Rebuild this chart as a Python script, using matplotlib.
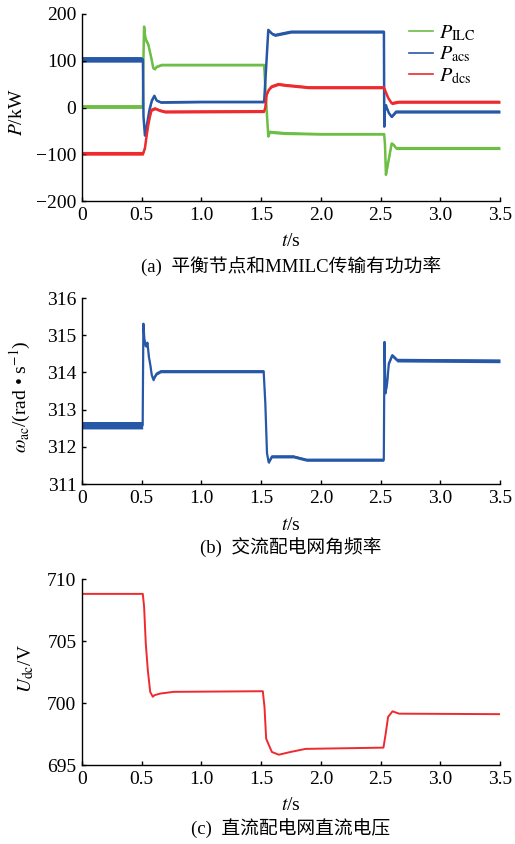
import numpy as np
import matplotlib
matplotlib.use("Agg")
import matplotlib.pyplot as plt

plt.rcParams['font.family'] = ['Liberation Serif', 'Noto Sans CJK SC', 'DejaVu Sans']
plt.rcParams['mathtext.fontset'] = 'stix'
plt.rcParams['axes.unicode_minus'] = True

# ---------------- data ----------------
x_ticks = [0, 0.5, 1.0, 1.5, 2.0, 2.5, 3.0, 3.5]
x_ticklabels = ['0', '0.5', '1.0', '1.5', '2.0', '2.5', '3.0', '3.5']

# (a) power, kW
t_ilc = [0, 0.510, 0.514, 0.520, 0.530, 0.541, 0.555, 0.569, 0.585, 0.597, 0.610, 0.625, 0.667, 0.8,
         1.525, 1.540, 1.560, 1.574, 1.60, 1.70, 2.0, 2.530, 2.537, 2.545, 2.555, 2.565, 2.580, 2.593,
         2.61, 2.63, 3.5]
p_ilc = [2, 2, 100, 173, 150, 141, 135, 119, 100, 84, 82, 87, 91, 91,
         91, 20, -62, -52, -53, -55, -57, -57, -80, -144, -130, -116, -95, -77,
         -80, -87, -87]
s_ilc = [4, 4, 2, 3, 4, 5, 5, 4, 3, 2, 2, 2, 2, 2,
         2, 1, 2, 3, 3, 3, 2, 2, 2, 2, 3, 3, 3, 3,
         3, 3, 3]

t_acs = [0, 0.510, 0.515, 0.527, 0.545, 0.565, 0.585, 0.606, 0.625, 0.66, 1.0, 1.525, 1.545, 1.560,
         1.590, 1.616, 1.75, 2.0, 2.528, 2.531, 2.534, 2.545, 2.551, 2.570, 2.593, 2.63, 3.5]
p_acs = [103, 103, -20, -60, -35, -5, 15, 25, 15, 11, 12, 12, 100, 166,
         158, 155, 162, 162, 162, -41, -10, 5, 0, -12, -20, -9, -9]
s_acs = [6, 6, 1, 2, 3, 3, 3, 2, 2, 2, 2, 2, 1, 2,
         3, 3, 3, 3, 3, 1, 1, 2, 2, 2, 2, 3, 3]

t_dcs = [0, 0.512, 0.527, 0.540, 0.555, 0.570, 0.583, 0.611, 0.65, 0.695, 1.525, 1.535, 1.546, 1.565,
         1.588, 1.644, 1.70, 1.90, 2.528, 2.545, 2.565, 2.593, 2.65, 3.5]
p_dcs = [-98, -98, -87, -62, -37, -18, -5, -2, -6, -9, -8, 0, 27, 38,
         45, 50, 48, 43, 43, 32, 20, 9, 12, 12]
s_dcs = [4, 4, 2, 2, 2, 2, 3, 3, 3, 3, 3, 2, 2, 2,
         3, 3, 3, 3, 3, 2, 2, 3, 3, 3]

# (b) angular frequency, rad/s
t_w = [0, 0.508, 0.514, 0.522, 0.534, 0.548, 0.56, 0.572, 0.584, 0.598, 0.612, 0.626, 0.66, 1.0,
       1.521, 1.535, 1.549, 1.563, 1.59, 1.77, 1.88, 2.527, 2.533, 2.541, 2.555, 2.569, 2.597, 2.639, 3.5]
w_ac = [312.58, 312.58, 315.31, 314.9, 314.7, 314.8, 314.42, 314.2, 313.93, 313.8, 313.9, 313.97, 314.03, 314.03,
        314.03, 313.17, 311.83, 311.58, 311.74, 311.74, 311.65, 311.65, 314.82, 313.44, 313.7, 314.24, 314.46, 314.33, 314.31]
s_w = [0.10, 0.10, 0.02, 0.04, 0.04, 0.04, 0.04, 0.04, 0.04, 0.04, 0.04, 0.04, 0.04, 0.04,
       0.04, 0.01, 0.01, 0.04, 0.04, 0.04, 0.04, 0.04, 0.01, 0.04, 0.04, 0.05, 0.05, 0.05, 0.05]

# (c) DC voltage, V
t_u = [0, 0.509, 0.520, 0.534, 0.551, 0.571, 0.593, 0.607, 0.655, 0.767, 1.514, 1.528, 1.542, 1.565,
       1.59, 1.648, 1.746, 1.872, 2.524, 2.543, 2.563, 2.60, 2.655, 3.5]
u_dc = [708.8, 708.8, 707.76, 704.8, 702.65, 700.9, 700.5, 700.63, 700.76, 700.9, 700.95, 699.68, 697.13, 696.6,
        696.05, 695.83, 696.05, 696.3, 696.4, 697.53, 698.88, 699.33, 699.14, 699.1]

c_green = '#6CBE45'
c_blue = '#2758A8'
c_red = '#EE2A2E'

W, H = 515, 844
fig = plt.figure(figsize=(W / 100, H / 100), dpi=100)


def ax_at(left, top, right, bottom):
    return fig.add_axes([left / W, 1 - bottom / H, (right - left) / W, (bottom - top) / H])


def style(ax, ylim, yticks):
    ax.set_xlim(0, 3.5)
    ax.set_ylim(*ylim)
    ax.set_xticks(x_ticks)
    ax.set_xticklabels(x_ticklabels)
    ax.set_yticks(yticks)
    for sp in ['top', 'right']:
        ax.spines[sp].set_visible(False)
    for sp in ['left', 'bottom']:
        ax.spines[sp].set_linewidth(1.0)
    ax.tick_params(direction='in', length=3, width=1.0, labelsize=14, pad=4)


def band(ax, t, v, s, color, lw):
    t = np.asarray(t); v = np.asarray(v); s = np.asarray(s)
    ax.fill_between(t, v - s, v + s, color=color, linewidth=0)
    line, = ax.plot(t, v, color=color, lw=lw)
    return line

# ---- (a)
ax1 = ax_at(82, 14, 500, 201)
style(ax1, (-200, 200), [-200, -100, 0, 100, 200])
band(ax1, t_ilc, p_ilc, s_ilc, c_green, 1.8)
band(ax1, t_acs, p_acs, s_acs, c_blue, 1.8)
band(ax1, t_dcs, p_dcs, s_dcs, c_red, 1.8)
# legend handles as thin lines
h1, = ax1.plot([], [], color=c_green, lw=1.2)
h2, = ax1.plot([], [], color=c_blue, lw=1.2)
h3, = ax1.plot([], [], color=c_red, lw=1.2)
ax1.legend([h1, h2, h3], [r'$P_{\mathrm{ILC}}$', r'$P_{\mathrm{acs}}$', r'$P_{\mathrm{dcs}}$'],
           loc='upper right', bbox_to_anchor=((476 - 82) / 418, 0.95), frameon=False, fontsize=14.5,
           handlelength=1.2, handletextpad=0.3, labelspacing=0.1, borderaxespad=0.0, borderpad=0.0)

# ---- (b)
ax2 = ax_at(82, 298, 500, 484)
style(ax2, (311, 316), [311, 312, 313, 314, 315, 316])
band(ax2, t_w, w_ac, s_w, c_blue, 1.6)

# ---- (c)
ax3 = ax_at(82, 579, 500, 765)
style(ax3, (695, 710), [695, 700, 705, 710])
ax3.plot(t_u, u_dc, color=c_red, lw=1.4)

# labels
def ftext(x, y, s, **kw):
    fig.text(x / W, 1 - y / H, s, ha='center', va='center', **kw)

ftext(17, 112, r'$P$/kW', rotation=90, fontsize=14)
ftext(20, 397, r'$\omega_{\mathrm{ac}}$/(rad • s$^{-1}$)', rotation=90, fontsize=14)
ftext(26, 668, r'$U_{\mathrm{dc}}$/V', rotation=90, fontsize=14)

for y in (241, 526, 806):
    ftext(291, y, r'$t$/s', fontsize=14)

ftext(291, 266, '(a)  平衡节点和MMILC传输有功功率', fontsize=13.5)
ftext(291, 547, '(b)  交流配电网角频率', fontsize=13.5)
ftext(291, 828, '(c)  直流配电网直流电压', fontsize=13.5)

fig.savefig('out.png', dpi=100)
